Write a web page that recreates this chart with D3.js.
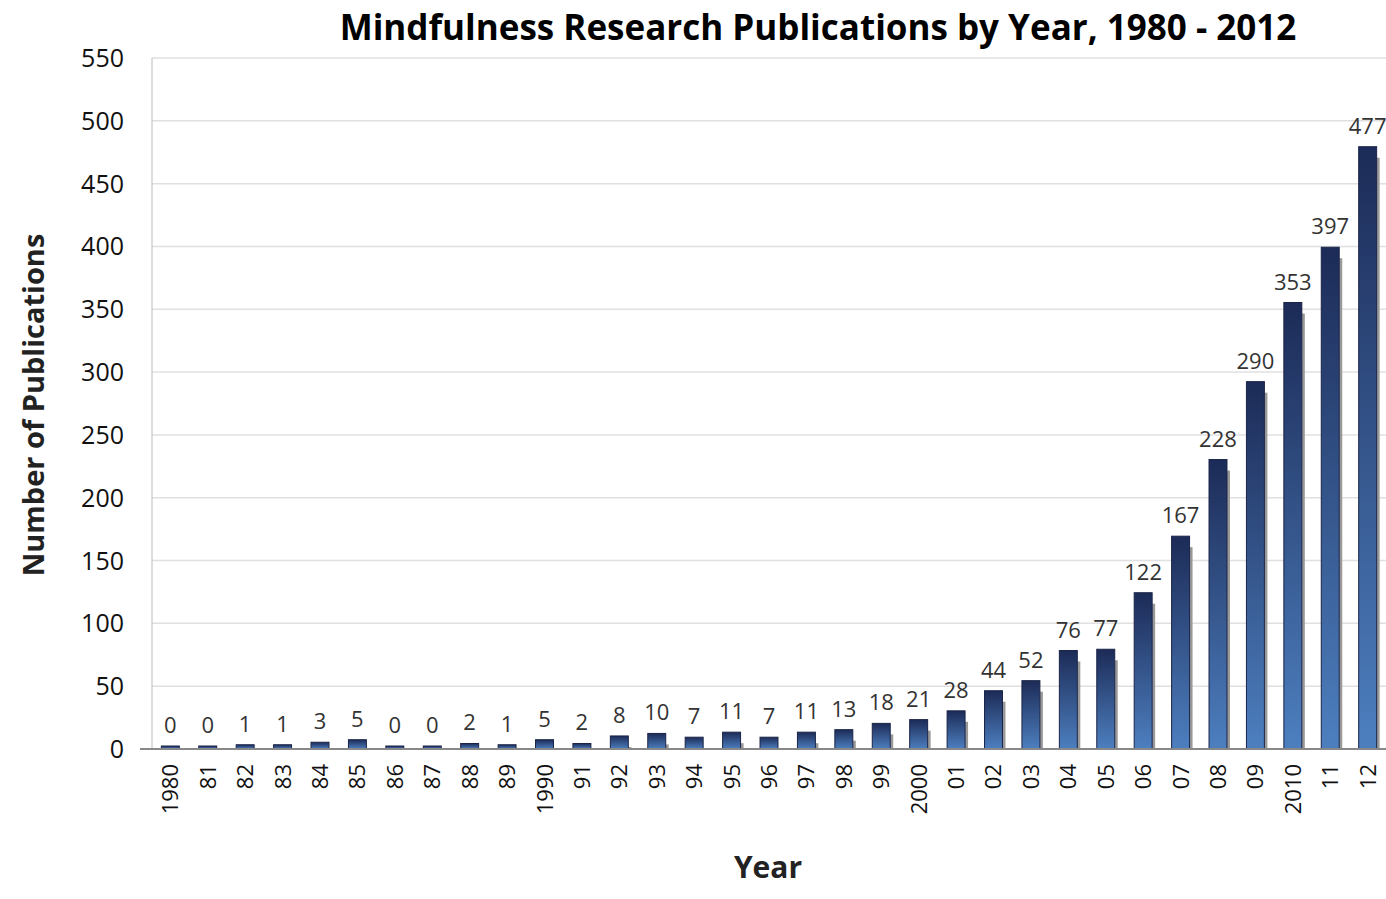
<!DOCTYPE html>
<html><head><meta charset="utf-8">
<script src="https://cdn.jsdelivr.net/npm/d3@7"></script>
<style>body{margin:0;background:#fff;font-family:"Open Sans",sans-serif}</style>
</head><body><div id="chart"></div>
<script>
var years = ["1980","81","82","83","84","85","86","87","88","89","1990","91","92","93","94","95","96","97","98","99","2000","01","02","03","04","05","06","07","08","09","2010","11","12"];
var counts = [0,0,1,1,3,5,0,0,2,1,5,2,8,10,7,11,7,11,13,18,21,28,44,52,76,77,122,167,228,290,353,397,477];
var yTicks = [0,50,100,150,200,250,300,350,400,450,500,550];

var W = 1386, H = 899;
var svg = d3.select("#chart").append("svg").attr("width", W).attr("height", H);

var x = d3.scaleBand().domain(years).range([152, 1386]).paddingInner(0.52).paddingOuter(0.25);
var y = d3.scaleLinear().domain([0, 550]).range([749, 58]);

var grad = svg.append("defs").append("linearGradient").attr("id", "barg")
    .attr("x1", 0).attr("y1", 0).attr("x2", 0).attr("y2", 1);
grad.append("stop").attr("offset", "0%").attr("stop-color", "#1c2b57");
grad.append("stop").attr("offset", "100%").attr("stop-color", "#4d7fbf");

// gridlines
svg.selectAll("line.grid").data(yTicks.slice(1)).enter().append("line")
    .attr("x1", 152).attr("x2", W)
    .attr("y1", function(d){ return y(d); }).attr("y2", function(d){ return y(d); })
    .style("stroke", "#e0e0e0").style("stroke-width", 1.5);

// y axis
svg.append("line").attr("x1", 152).attr("x2", 152).attr("y1", 58).attr("y2", 749)
    .style("stroke", "#bbb");
svg.selectAll("text.ytick").data(yTicks).enter().append("text")
    .attr("x", 124).attr("y", function(d){ return y(d) + 9; })
    .attr("text-anchor", "end").style("font-size", "25px").style("fill", "#111")
    .text(function(d){ return d; });

// bars with a thin shadow
svg.selectAll("rect.shadow").data(counts).enter().append("rect")
    .attr("x", function(d,i){ return x(years[i]) + x.bandwidth(); })
    .attr("width", 3)
    .attr("y", function(d){ return y(d) + 8; })
    .attr("height", function(d){ return Math.max(0, y(0) - y(d) - 8); })
    .style("fill", "#999");
svg.selectAll("rect.bar").data(counts).enter().append("rect")
    .attr("x", function(d,i){ return x(years[i]); })
    .attr("width", x.bandwidth())
    .attr("y", function(d){ return y(d) - 3; })
    .attr("height", function(d){ return y(0) - y(d) + 3; })
    .style("fill", "url(#barg)").style("stroke", "#1a2448").style("stroke-width", 1);

// x axis line
svg.append("line").attr("x1", 140).attr("x2", W).attr("y1", 749).attr("y2", 749)
    .style("stroke", "#888").style("stroke-width", 2);

// value labels
svg.selectAll("text.val").data(counts).enter().append("text")
    .attr("x", function(d,i){ return x(years[i]) + x.bandwidth()/2; })
    .attr("y", function(d){ return y(d) - 16; })
    .attr("text-anchor", "middle").style("font-size", "22px").style("fill", "#333")
    .text(function(d){ return d; });

// x tick labels, rotated
svg.selectAll("text.xtick").data(years).enter().append("text")
    .attr("transform", function(d){ return "translate(" + (x(d) + x.bandwidth()/2 + 8) + ",764) rotate(-90)"; })
    .attr("text-anchor", "end").style("font-size", "22px").style("fill", "#111")
    .text(function(d){ return d; });

// titles
svg.append("text").attr("x", 818).attr("y", 40).attr("text-anchor", "middle")
    .style("font-size", "35px").style("font-weight", "bold").style("fill", "#000")
    .text("Mindfulness Research Publications by Year, 1980 - 2012");
svg.append("text").attr("x", 768).attr("y", 878).attr("text-anchor", "middle")
    .style("font-size", "30px").style("font-weight", "bold").style("fill", "#222")
    .text("Year");
svg.append("text").attr("transform", "translate(44,405) rotate(-90)").attr("text-anchor", "middle")
    .style("font-size", "29px").style("font-weight", "bold").style("fill", "#222")
    .text("Number of Publications");
</script></body></html>
